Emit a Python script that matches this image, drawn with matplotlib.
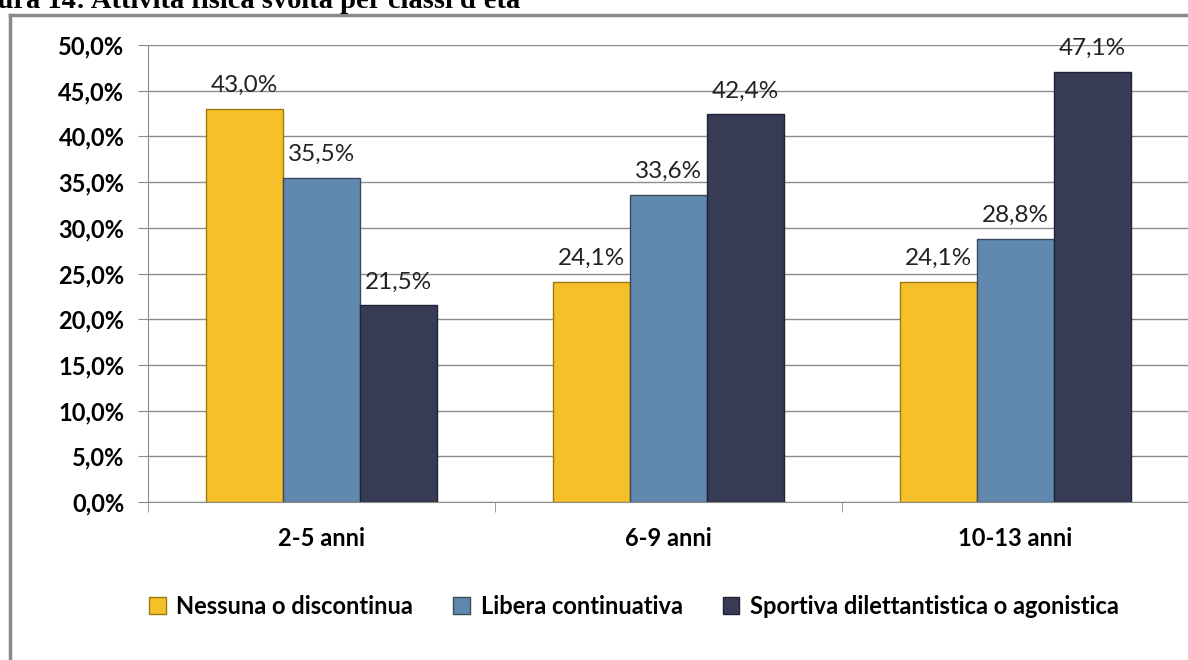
import matplotlib.pyplot as plt
import numpy as np
from matplotlib.ticker import FuncFormatter

categories = ['2-5 anni', '6-9 anni', '10-13 anni']
series_names = ['Nessuna o discontinua', 'Libera continuativa',
                'Sportiva dilettantistica o agonistica']
nessuna = [43.0, 24.1, 24.1]
libera = [35.5, 33.6, 28.8]
sportiva = [21.5, 42.4, 47.1]

colors = ['#F6C02A', '#6189AF', '#373B55']
edges = ['#9C7A10', '#3A4A5A', '#222233']

plt.rcParams['font.family'] = ['Lato', 'DejaVu Sans']

fig = plt.figure(figsize=(11.88, 6.6), dpi=100)
ax = fig.add_axes([148 / 1188, 1 - 502 / 660, 1041 / 1188, 457 / 660])

x = np.arange(len(categories))
w = 0.222
for i, vals in enumerate([nessuna, libera, sportiva]):
    pos = x + (i - 1) * w
    ax.bar(pos, vals, w, color=colors[i], edgecolor=edges[i], linewidth=1,
           label=series_names[i], zorder=3)
    for p, v in zip(pos, vals):
        ax.text(p, v + 1.4, f"{v:.1f}%".replace('.', ','), ha='center', va='bottom',
                fontsize=17.5, color='#222222', zorder=4)

ax.set_xlim(-0.5, 2.5)
ax.set_ylim(0, 50)
ax.set_yticks(np.arange(0, 50.1, 5))
ax.yaxis.set_major_formatter(FuncFormatter(lambda v, _: f"{v:.1f}%".replace('.', ',')))
ax.grid(axis='y', color='#8c8c8c', linewidth=1, zorder=0)
ax.set_xticks(x)
ax.set_xticklabels(categories, fontsize=17, fontweight='bold')
ax.set_xticks([-0.5, 0.5, 1.5, 2.5], minor=True)
ax.tick_params(axis='x', which='major', length=0, pad=18)
ax.tick_params(axis='x', which='minor', length=7, color='#8c8c8c')
ax.tick_params(axis='y', length=7, color='#8c8c8c', labelsize=17, pad=10)
for lab in ax.get_yticklabels():
    lab.set_fontweight('bold')
for s in ['top', 'right']:
    ax.spines[s].set_visible(False)
ax.spines['left'].set_color('#8c8c8c')
ax.spines['bottom'].set_color('#8c8c8c')

fig.legend(loc='center', bbox_to_anchor=(634 / 1188, 1 - 606 / 660), ncol=3,
           frameon=False, prop={'size': 17, 'weight': 'bold'},
           handlelength=0.7, handleheight=0.7, handletextpad=0.45, columnspacing=1.7)

# outer chart border (partially cropped)
fig.add_artist(plt.Line2D([10 / 1188, 10 / 1188], [0, 1 - 15 / 660],
                          transform=fig.transFigure, color='#8a8a8a', linewidth=2.5))
fig.add_artist(plt.Line2D([10 / 1188, 1], [1 - 15 / 660, 1 - 15 / 660],
                          transform=fig.transFigure, color='#8a8a8a', linewidth=2.5))

# cropped caption above chart
fig.text(520 / 1188, 1 - 8 / 660, "Figura 14: Attività fisica svolta per classi d'età",
         fontsize=20.5, fontweight='bold', family=['Liberation Serif', 'DejaVu Serif'],
         va='baseline', ha='right')

fig.savefig('out.png', dpi=100)
